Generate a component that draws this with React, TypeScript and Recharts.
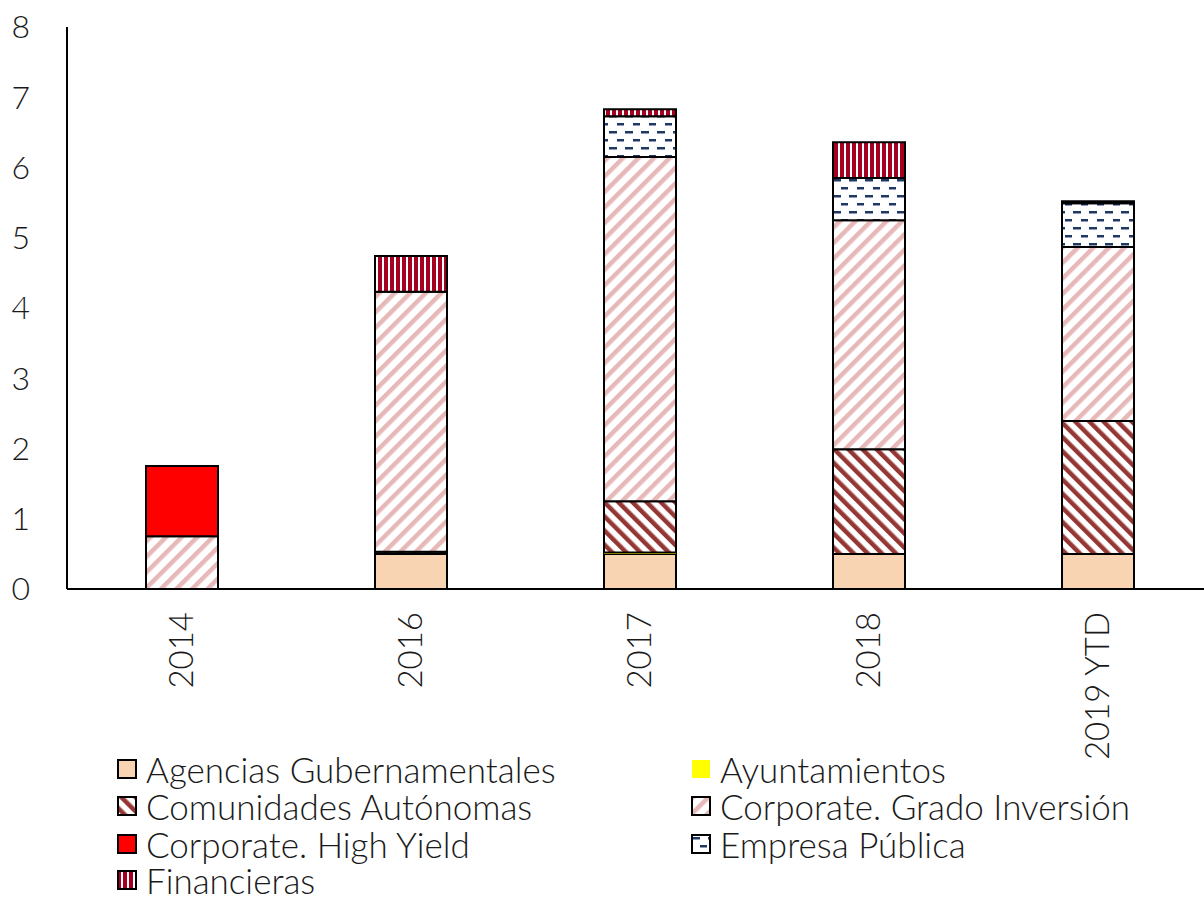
import React from "react";
import { BarChart, Bar, XAxis, YAxis } from "recharts";

const years = ["2014", "2016", "2017", "2018", "2019 YTD"];
const agencias = [0, 0.5, 0.5, 0.5, 0.5];
const ayuntamientos = [0, 0, 0.02, 0, 0];
const comunidades = [0, 0.03, 0.73, 1.49, 1.89];
const gradoInversion = [0.75, 3.7, 4.9, 3.26, 2.48];
const highYield = [1.0, 0, 0, 0, 0];
const empresaPublica = [0, 0, 0.58, 0.6, 0.62];
const financieras = [0, 0.51, 0.1, 0.51, 0.03];
const yTicks = [0, 1, 2, 3, 4, 5, 6, 7, 8];

const data = years.map((year, i) => ({
  year,
  agencias: agencias[i],
  ayuntamientos: ayuntamientos[i],
  comunidades: comunidades[i],
  gradoInversion: gradoInversion[i],
  highYield: highYield[i],
  empresaPublica: empresaPublica[i],
  financieras: financieras[i],
}));

const FONT = "Lato, 'Open Sans', sans-serif";
const TEXT = "#1a1a1a";

const series = [
  { key: "agencias", name: "Agencias Gubernamentales", fill: "#F9D4B2", stroke: true },
  { key: "ayuntamientos", name: "Ayuntamientos", fill: "#FFFF00", stroke: false },
  { key: "comunidades", name: "Comunidades Autónomas", fill: "url(#pCA)", stroke: true },
  { key: "gradoInversion", name: "Corporate. Grado Inversión", fill: "url(#pGI)", stroke: true },
  { key: "highYield", name: "Corporate. High Yield", fill: "#FF0000", stroke: true },
  { key: "empresaPublica", name: "Empresa Pública", fill: "url(#pEP)", stroke: true },
  { key: "financieras", name: "Financieras", fill: "url(#pFin)", stroke: true },
];

// legend order: two columns, row-major
const legendPos = [
  [117, 760],
  [691, 760],
  [117, 797],
  [691, 797],
  [117, 835],
  [691, 835],
  [117, 871],
];

const YearTick = (props: any) => {
  const { x, y, payload } = props;
  return (
    <g transform={`translate(${x},${y + 23})`}>
      <text
        transform="rotate(-90)"
        textAnchor="end"
        dy="0.36em"
        fontFamily={FONT}
        fontWeight={300}
        fontSize={33}
        fill={TEXT}
      >
        {payload.value}
      </text>
    </g>
  );
};

export default function App() {
  return (
    <div
      style={{
        position: "fixed",
        left: 0,
        top: 0,
        width: 1204,
        height: 898,
        overflow: "hidden",
        background: "#fff",
      }}
    >
      <BarChart
        width={1230}
        height={898}
        data={data}
        margin={{ top: 27, right: 18, bottom: 0, left: 0 }}
        barSize={72}
      >
        <defs>
          <pattern id="pGI" width="11" height="11" patternUnits="userSpaceOnUse" patternTransform="rotate(45)">
            <rect width="11" height="11" fill="#fff" />
            <rect x="0" y="0" width="4.5" height="11" fill="#E6B8B7" />
          </pattern>
          <pattern id="pCA" width="10" height="10" patternUnits="userSpaceOnUse" patternTransform="rotate(-45)">
            <rect width="10" height="10" fill="#fff" />
            <rect x="0" y="0" width="4.5" height="10" fill="#953735" />
          </pattern>
          <pattern id="pEP" width="16" height="16" patternUnits="userSpaceOnUse">
            <rect width="16" height="16" fill="#fff" />
            <rect x="1" y="3" width="8" height="2.5" fill="#1F3864" />
            <rect x="9" y="11" width="8" height="2.5" fill="#1F3864" />
          </pattern>
          <pattern id="pFin" width="6" height="10" patternUnits="userSpaceOnUse">
            <rect width="6" height="10" fill="#fff" />
            <rect x="0" y="0" width="4" height="10" fill="#A50021" />
          </pattern>
        </defs>
        <XAxis
          dataKey="year"
          axisLine={{ stroke: "#000", strokeWidth: 2 }}
          tickLine={false}
          tickSize={0}
          tickMargin={0}
          height={309}
          interval={0}
          tick={<YearTick />}
        />
        <YAxis
          domain={[0, 8]}
          ticks={yTicks}
          width={67}
          axisLine={{ stroke: "#000", strokeWidth: 2 }}
          tickLine={false}
          tickSize={0}
          tickMargin={37}
          tick={{ fontFamily: FONT, fontWeight: 300, fontSize: 32, fill: TEXT }}
        />
        {series.map((s) => (
          <Bar
            key={s.key}
            dataKey={s.key}
            name={s.name}
            stackId="a"
            fill={s.fill}
            stroke={s.stroke ? "#000" : "none"}
            strokeWidth={2}
            isAnimationActive={false}
          />
        ))}
      </BarChart>
      {series.map((s, i) => (
        <div
          key={s.key}
          style={{
            position: "absolute",
            left: legendPos[i][0],
            top: legendPos[i][1] - 7,
            display: "flex",
            alignItems: "center",
            fontFamily: FONT,
            fontWeight: 300,
            fontSize: 35,
            color: TEXT,
            lineHeight: "33px",
            height: 33,
            whiteSpace: "nowrap",
          }}
        >
          <svg width={22} height={22} style={{ marginRight: 7 }}>
            <rect
              x={1}
              y={1}
              width={18}
              height={18}
              fill={s.fill}
              stroke={s.stroke ? "#000" : "none"}
              strokeWidth={2}
            />
          </svg>
          <span>{s.name}</span>
        </div>
      ))}
    </div>
  );
}
